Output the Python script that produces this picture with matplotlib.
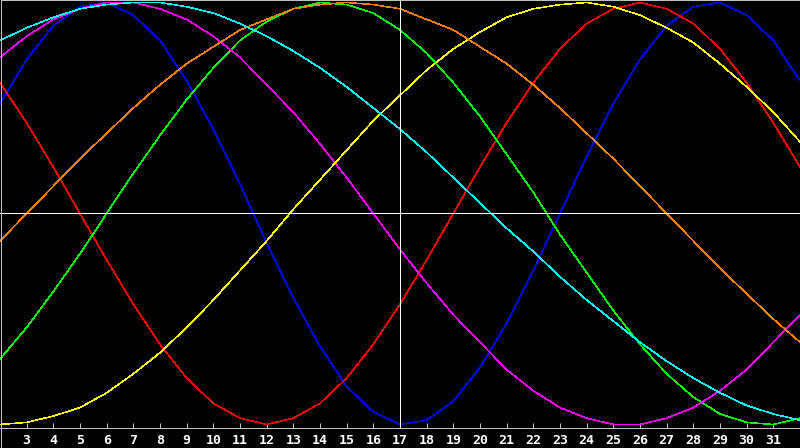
import matplotlib
matplotlib.use("Agg")
import matplotlib.pyplot as plt
from matplotlib.patches import Rectangle

# Days shown on the x axis (one vertex per day)
days = list(range(2, 33))
today = 17
tick_days = list(range(3, 32))

# Cycle values (-1 .. 1), one per day 2..32
physical = [0.52, 0.73, 0.89, 0.98, 1.00, 0.94, 0.82, 0.63, 0.40, 0.14, -0.14, -0.40, -0.63, -0.82, -0.94, -1.00,
            -0.98, -0.89, -0.73, -0.52, -0.27, 0.00, 0.27, 0.52, 0.73, 0.89, 0.98, 1.00, 0.94, 0.82, 0.63]
emotional = [0.62, 0.43, 0.22, 0.00, -0.22, -0.43, -0.62, -0.78, -0.90, -0.97, -1.00, -0.97, -0.90, -0.78, -0.62, -0.43,
             -0.22, 0.00, 0.22, 0.43, 0.62, 0.78, 0.90, 0.97, 1.00, 0.97, 0.90, 0.78, 0.62, 0.43, 0.22]
intellectual = [-0.69, -0.54, -0.37, -0.19, 0.00, 0.19, 0.37, 0.54, 0.69, 0.82, 0.91, 0.97, 1.00, 0.99, 0.95, 0.87,
                0.76, 0.62, 0.46, 0.28, 0.10, -0.10, -0.28, -0.46, -0.62, -0.76, -0.87, -0.95, -0.99, -1.00, -0.97]
intuitive = [0.74, 0.84, 0.92, 0.97, 1.00, 1.00, 0.97, 0.92, 0.84, 0.74, 0.61, 0.48, 0.33, 0.17, 0.00, -0.17,
             -0.33, -0.48, -0.61, -0.74, -0.84, -0.92, -0.97, -1.00, -1.00, -0.97, -0.92, -0.84, -0.74, -0.61, -0.48]
aesthetic = [-1.00, -0.99, -0.96, -0.92, -0.85, -0.76, -0.66, -0.54, -0.41, -0.27, -0.13, 0.02, 0.16, 0.30, 0.44, 0.56,
             0.68, 0.78, 0.86, 0.93, 0.97, 0.99, 1.00, 0.98, 0.94, 0.88, 0.81, 0.71, 0.60, 0.48, 0.34]
awareness = [-0.13, 0.00, 0.13, 0.26, 0.38, 0.50, 0.61, 0.71, 0.79, 0.87, 0.92, 0.97, 0.99, 1.00, 0.99, 0.97,
             0.92, 0.87, 0.79, 0.71, 0.61, 0.50, 0.38, 0.26, 0.13, 0.00, -0.13, -0.26, -0.38, -0.50, -0.61]
spiritual = [0.82, 0.88, 0.93, 0.97, 0.99, 1.00, 1.00, 0.98, 0.95, 0.90, 0.84, 0.77, 0.69, 0.60, 0.50, 0.40,
             0.29, 0.17, 0.05, -0.07, -0.18, -0.30, -0.41, -0.51, -0.61, -0.70, -0.78, -0.85, -0.91, -0.95, -0.98]

series = [
    (physical, "#0000ff"),
    (emotional, "#ff0000"),
    (intellectual, "#00ff00"),
    (intuitive, "#ff00ff"),
    (aesthetic, "#ffff00"),
    (awareness, "#ff8000"),
    (spiritual, "#00ffff"),
]

W, H = 800, 448
fig = plt.figure(figsize=(W / 100, H / 100), dpi=100, facecolor="black")
ax = fig.add_axes([0, 20 / H, 1, 428 / H])
ax.set_facecolor("black")

lw = 0.72   # about one pixel
clw = 0.4   # curve width
for vals, col in series:
    ax.plot(days, vals, color=col, lw=clw, antialiased=False)

ax.axhline(0, color="white", lw=0.55, antialiased=False, zorder=5)
ax.axvline(today, color="white", lw=0.55, antialiased=False, zorder=5)

ax.set_xlim(days[0], days[-1])
ax.set_ylim(-1.0166, 1.0118)

for side in ["top", "left", "right"]:
    ax.spines[side].set_visible(False)
ax.spines["bottom"].set_color("#c0c0c0")
ax.spines["bottom"].set_linewidth(lw)

ax.set_xticks(tick_days)
ax.set_xticklabels([str(d) for d in tick_days], color="white",
                   fontfamily="DejaVu Sans Mono", fontweight="bold", fontsize=9.5)
ax.tick_params(axis="x", direction="in", length=3.6, width=0.55, color="white", pad=4.0)
ax.set_yticks([])

# thin gray frame around the picture
fig.patches.append(Rectangle((0.5 / W, 0.5 / H), 1 - 1 / W, 1 - 1 / H, transform=fig.transFigure,
                             fill=False, edgecolor="#c0c0c0", lw=0.55, antialiased=False))

fig.savefig("out.png", dpi=100, facecolor="black")
